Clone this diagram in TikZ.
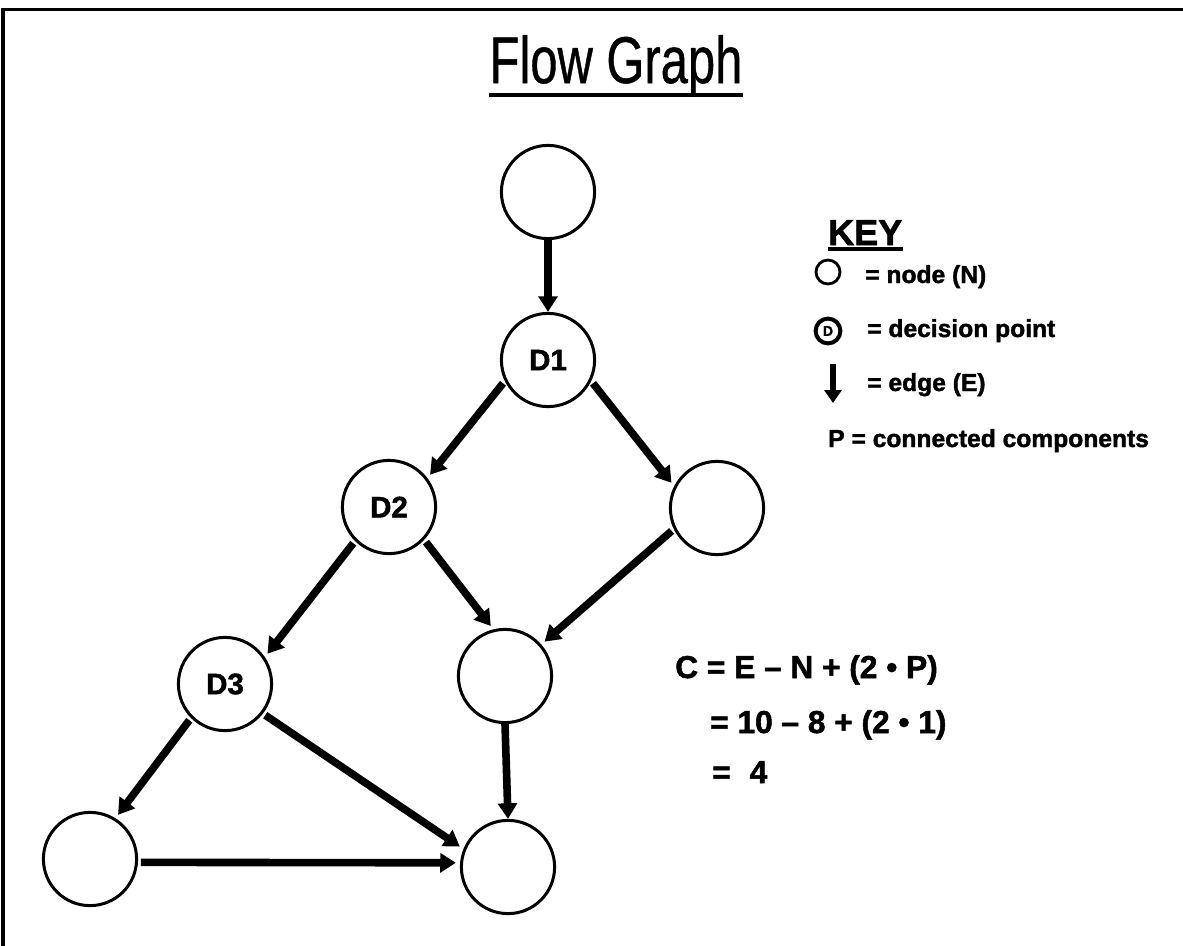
\documentclass[tikz,border=0pt]{standalone}
\usepackage{fontspec}
\setmainfont{Liberation Sans}[BoldFeatures={FakeBold=1.6}]
\newfontfamily\headfont{Liberation Sans}[FakeBold=0.8]
\usetikzlibrary{arrows.meta}
\begin{document}
\begin{tikzpicture}[x=0.025cm,y=-0.025cm,
  vert/.style={circle,draw,line width=0.075cm,minimum size=2.33cm,inner sep=0pt,
    font=\fontsize{21pt}{21pt}\selectfont\bfseries},
  flow/.style={line width=0.19cm,-{Triangle[width=0.47cm,length=0.39cm]},
    shorten <=2pt,shorten >=3pt},
  keytext/.style={anchor=base west,inner sep=0pt,
    font=\fontsize{17.5pt}{18pt}\selectfont\bfseries},
  eqtext/.style={anchor=base west,inner sep=0pt,
    font=\fontsize{22.5pt}{23pt}\selectfont\bfseries},
]
\path[use as bounding box,fill=white] (0,0) rectangle (1183,946);
% slide frame
\draw[line width=0.075cm] (3,946) -- (3,10) -- (1183,10);

% heading
\node[anchor=base,inner sep=0pt,font=\headfont\fontsize{47pt}{47pt}\selectfont]
  (title) at (616,83) {\scalebox{0.74}[1]{Flow Graph}};
\draw[line width=0.09cm] ([yshift=-0.3cm]title.base west) -- ([yshift=-0.3cm]title.base east);

% flow graph nodes
\node[vert] (top) at (548,192) {};
\node[vert] (d1)  at (548,360) {D1};
\node[vert] (d2)  at (389,507) {D2};
\node[vert] (rt)  at (717,508) {};
\node[vert] (mid) at (505,676) {};
\node[vert] (d3)  at (225,684) {D3};
\node[vert] (bl)  at (90,859)  {};
\node[vert] (bm)  at (508,867) {};

% flow graph edges
\draw[flow,shorten <=0pt,shorten >=0pt] (top.south) -- (d1.north);
\draw[flow] (d1.206) -- (d2.37);
\draw[flow] (d1.334) -- (rt.153);
\draw[flow] (d2.225) -- (d3.34);
\draw[flow] (d2.317) -- (mid.104);
\draw[flow] (rt.206) -- (mid.41);
\draw[flow,shorten <=0pt,shorten >=0pt] (mid.south) -- (bm.north);
\draw[flow] (d3.225) -- (bl.58);
\draw[flow] (d3.322) -- (bm.158);
\draw[flow] (bl.-4) -- (bm.175);

% key
\node[anchor=base west,inner sep=0pt,font=\fontsize{25.6pt}{26pt}\selectfont\bfseries]
  (keyhd) at (828,245) {KEY};
\draw[line width=0.09cm] ([yshift=-0.1cm]keyhd.base west) -- ([yshift=-0.1cm]keyhd.base east);
\node[circle,draw,line width=0.07cm,minimum size=0.6cm,inner sep=0pt] (keyn) at (828,272) {};
\node[keytext] (keyntxt) at (865,283) {= node (N)};
\node[circle,draw,line width=0.1cm,minimum size=0.62cm,inner sep=0pt,
  font=\fontsize{10pt}{10pt}\selectfont\bfseries] (keyd) at (828,331) {D};
\node[keytext] (keydtxt) at (867,337) {= decision point};
\coordinate (keyea) at (833,364);
\coordinate (keyeb) at (833,403);
\draw[line width=0.15cm,-{Triangle[width=0.42cm,length=0.32cm]}] (keyea) -- (keyeb);
\node[keytext] (keyetxt) at (867,391) {= edge (E)};
\node[keytext] (keyptxt) at (828,447) {P = connected components};

% cyclomatic complexity
\node[eqtext] (f1) at (675,678) {C = E – N + (2 • P)};
\node[eqtext] (f2) at (710,733) {= 10 – 8 + (2 • 1)};
\node[eqtext] (f3) at (712,783) {=\hspace{0.6em}4};
\end{tikzpicture}
\end{document}
